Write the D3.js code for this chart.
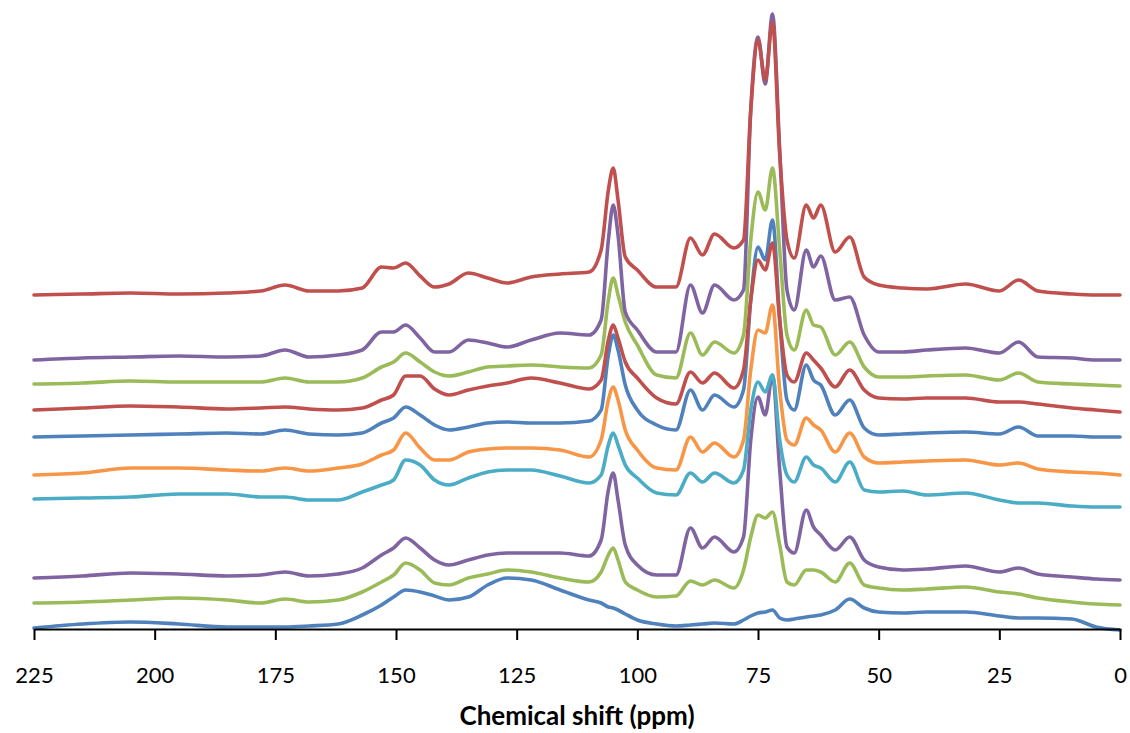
<!DOCTYPE html>
<html lang="en">
<head>
<meta charset="utf-8">
<script src="https://d3js.org/d3.v7.min.js"></script>
<style>
  body { margin: 0; background: #fff; }
  svg { display: block; }
  .axis text { font-family: Lato, sans-serif; font-size: 22px; fill: #000; }
  .axis path, .axis line { stroke: #000; stroke-width: 2px; }
  .title { font-family: Lato, sans-serif; font-size: 26px; font-weight: bold; }
  .trace { fill: none; stroke-width: 3.6px; stroke-linejoin: round; stroke-linecap: round; }
</style>
</head>
<body>
<script>
// chemical shift grid (ppm), shared by every spectrum
const ppm = [225, 215, 205, 195, 185, 178, 173, 168, 162, 157, 153, 150.5, 148, 145, 142, 139, 135, 131, 127, 122,
  116, 110, 107.5, 106, 105, 104, 102.5, 100, 96, 92, 89, 86.5, 84, 80, 78, 76.5, 75, 73.5, 72, 70.5,
  69, 67.5, 65, 63.5, 62, 59, 56, 53, 50, 45, 40, 32, 25, 21, 17, 10, 5, 0];

// stacked spectra, intensity (a.u., stack offset included), bottom to top
const s1 = [0.1,0.5,0.7,0.5,0.2,0.2,0.2,0.3,0.5,1.4,2.4,3.2,3.9,3.7,3.3,2.9,3.2,4.4,5.1,4.9,
  3.9,2.9,2.6,2.2,2.1,1.9,1.5,0.9,0.5,0.3,0.4,0.5,0.6,0.5,0.9,1.3,1.6,1.7,1.9,1.1,
  0.9,1.0,1.2,1.3,1.4,1.9,3.0,2.1,1.7,1.6,1.7,1.7,1.3,1.1,1.1,1.0,0.2,-0.1];
const s2 = [2.6,2.7,2.9,3.1,2.9,2.6,3.0,2.7,2.9,3.7,4.7,5.4,6.6,5.9,4.6,4.4,5.1,5.5,5.9,5.7,
  5.1,4.7,5.7,7.4,8.1,6.9,4.7,3.9,3.2,3.3,4.8,4.4,4.9,4.1,5.9,9.2,11.4,11.1,11.7,8.4,
  4.7,4.4,5.9,5.9,5.7,4.7,6.6,4.4,4.1,3.9,4.0,4.2,3.7,3.5,3.1,2.7,2.5,2.4];
const s3 = [5.1,5.3,5.6,5.5,5.3,5.4,5.7,5.3,5.5,6.1,7.4,8.1,9.1,8.1,6.9,6.4,6.9,7.4,7.6,7.6,
  7.6,7.3,8.9,13.9,15.6,12.9,8.4,6.4,5.4,5.4,10.1,8.1,9.2,7.7,9.2,18.9,23.2,21.4,25.4,15.9,
  8.2,7.6,11.9,10.2,9.4,7.9,9.2,6.9,6.2,5.9,6.0,6.3,5.7,6.1,5.5,5.2,5.0,4.9];
const s4 = [13.0,13.1,13.2,13.5,13.5,13.2,13.2,12.9,12.9,13.7,14.4,14.9,16.9,16.4,14.9,14.4,15.1,15.7,15.9,15.9,
  15.3,14.6,15.4,18.4,19.6,18.4,16.4,15.1,13.6,13.4,15.6,14.7,15.6,14.6,15.9,21.9,24.7,23.7,25.4,18.9,
  15.4,14.7,17.2,16.4,16.1,14.7,16.7,13.9,13.7,13.8,13.4,13.6,12.9,12.6,12.6,12.3,12.2,12.2];
const s5 = [15.4,15.6,16.1,16.1,15.9,15.8,16.1,15.8,16.1,16.5,17.4,17.9,19.6,18.1,16.9,16.9,17.7,18.0,18.1,18.1,
  17.9,17.2,18.9,22.9,24.2,22.9,19.9,17.9,16.1,15.9,19.2,17.7,18.6,17.2,18.9,25.9,29.9,29.6,32.4,23.9,
  18.9,18.4,21.1,20.4,19.9,17.7,19.6,17.2,16.6,16.7,16.8,16.9,16.4,16.6,16.0,15.7,15.6,15.4];
const s6 = [19.2,19.3,19.4,19.5,19.6,19.5,19.9,19.5,19.4,19.6,20.6,21.1,22.2,21.4,20.4,19.9,20.2,20.6,20.7,20.6,
  20.6,20.8,21.9,27.4,29.4,27.9,24.4,21.9,20.4,19.9,23.9,21.9,23.4,22.2,23.9,32.9,38.2,36.9,40.9,30.9,
  22.9,21.9,26.4,24.9,24.4,21.4,22.9,20.1,19.4,19.5,19.6,19.7,19.5,20.2,19.3,19.3,19.2,19.2];
const s7 = [21.9,22.1,22.3,22.2,22.0,22.1,22.2,22.0,21.9,22.1,22.9,23.4,25.3,25.3,24.0,23.4,23.9,24.3,24.6,25.1,
  24.6,24.0,24.9,28.9,30.4,29.1,26.7,25.1,23.1,22.5,25.7,24.6,25.6,24.1,25.9,32.9,36.9,35.9,38.6,30.9,
  25.4,24.7,27.6,26.9,26.1,24.2,25.9,23.9,23.1,23.0,23.1,23.1,22.7,22.7,22.5,22.1,21.9,21.7];
const s8 = [24.5,24.6,24.8,24.7,24.7,24.7,25.1,24.7,24.7,25.1,26.2,26.7,27.6,26.7,25.7,25.3,25.7,26.2,26.3,26.4,
  26.2,26.1,27.4,32.9,35.1,33.4,30.7,28.4,25.4,25.1,29.6,27.4,28.7,27.6,29.4,38.9,43.7,41.9,46.1,37.9,
  29.4,27.9,31.9,30.4,30.2,27.4,28.7,26.2,25.2,25.2,25.3,25.4,24.9,25.6,24.7,24.5,24.4,24.3];
const s9 = [26.9,27.1,27.2,27.3,27.2,27.3,27.9,27.2,27.4,27.9,29.7,29.7,30.4,29.1,27.7,27.7,28.9,28.6,28.2,28.9,
  29.6,29.4,30.9,38.9,42.4,39.4,31.7,29.9,27.7,27.7,34.4,31.6,34.4,32.9,33.9,51.9,59.2,54.5,61.5,47.9,
  33.9,31.9,37.9,36.2,37.3,32.9,33.2,29.4,27.7,27.7,27.9,28.1,27.6,28.7,27.2,27.1,26.9,26.9];
const s10 = [33.4,33.5,33.6,33.5,33.6,33.8,34.4,33.8,33.8,34.1,36.2,36.1,36.6,35.3,34.2,34.5,35.6,35.1,34.6,35.2,
  35.5,35.7,37.9,43.9,46.1,42.9,37.2,35.9,34.2,34.2,39.1,37.4,39.5,38.1,38.9,51.9,58.9,54.9,60.7,47.4,
  38.9,37.1,42.4,41.1,42.4,37.7,39.2,35.2,34.4,34.1,34.0,34.5,33.8,34.9,33.8,33.5,33.4,33.4];

const spectra = [s1, s2, s3, s4, s5, s6, s7, s8, s9, s10];
const colors = ["#4F81BD", "#9BBB59", "#8064A2", "#4BACC6", "#F79646", "#4F81BD", "#C0504D", "#9BBB59", "#8064A2", "#C0504D"];
const xTicks = [225, 200, 175, 150, 125, 100, 75, 50, 25, 0];
const xTitle = "Chemical shift (ppm)";

const width = 1130;
const height = 733;

const svg = d3.select('body').append('svg')
  .attr('width', width).attr('height', height);

const x = d3.scaleLinear().domain([225, 0]).range([34, 1120]);
const y = d3.scaleLinear().domain([0, 61.5]).range([629, 14]);

const line = d3.line()
  .x((d, i) => x(ppm[i]))
  .y(d => y(d))
  .curve(d3.curveMonotoneX);

svg.append('g')
  .selectAll('path')
  .data(spectra)
  .enter()
  .append('path')
  .attr('class', 'trace')
  .attr('stroke', (d, i) => colors[i])
  .attr('d', d => line(d));

svg.append('g')
  .attr('class', 'axis')
  .attr('transform', `translate(0,${y(0)})`)
  .call(d3.axisBottom(x).tickValues(xTicks).tickSize(11).tickSizeOuter(0).tickPadding(27));

svg.append('text')
  .attr('class', 'title')
  .attr('x', (x(225) + x(0)) / 2)
  .attr('y', 725)
  .attr('text-anchor', 'middle')
  .text(xTitle);
</script>
</body>
</html>
